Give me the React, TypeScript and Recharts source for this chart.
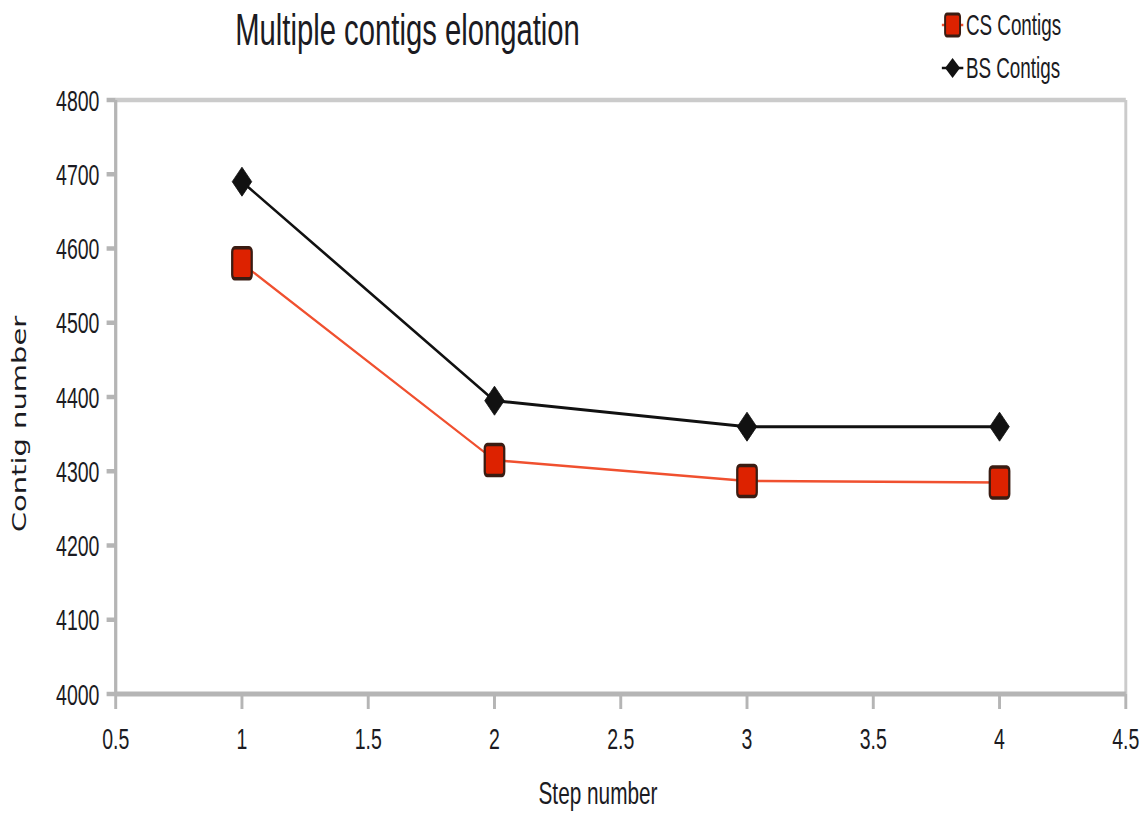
import React from 'react';
import { LineChart, Line, XAxis, YAxis, ReferenceLine, Customized } from 'recharts';

// step numbers on the x axis and contig counts per series
const steps = [1, 2, 3, 4];
const csContigs = [4580, 4315, 4287, 4285];
const bsContigs = [4690, 4395, 4360, 4360];

const xTicks = [0.5, 1, 1.5, 2, 2.5, 3, 3.5, 4, 4.5];
const yTicks = [4000, 4100, 4200, 4300, 4400, 4500, 4600, 4700, 4800];

// the chart is laid out wide and then squeezed horizontally
const SQUEEZE = 0.65;
const OUT_W = 1146;
const OUT_H = 816;
const CHART_W = Math.round(OUT_W / SQUEEZE);

const RED = '#dd2200';
const RED_LINE = '#f0502f';
const DARK = '#111111';
const AXIS = '#b5b5b5';
const FRAME = '#cbcbcb';
const FONT = '"Liberation Sans", Arial, sans-serif';

const chartData = steps.map((s, i) => ({ step: s, cs: csContigs[i], bs: bsContigs[i] }));

const SquareDot = (props: any) => {
  const { cx, cy } = props;
  if (cx == null || cy == null) return null;
  return (
    <rect x={cx - 15} y={cy - 15.5} width={30} height={31} rx={4} ry={4}
      fill={RED} stroke="#3a1c12" strokeWidth={3.5} />
  );
};

const DiamondDot = (props: any) => {
  const { cx, cy } = props;
  if (cx == null || cy == null) return null;
  return (
    <polygon points={`${cx},${cy - 14.5} ${cx + 15},${cy} ${cx},${cy + 14.5} ${cx - 15},${cy}`}
      fill={DARK} stroke={DARK} strokeWidth={1} strokeLinejoin="round" />
  );
};

const Labels = () => (
  <g fontFamily={FONT} fill="#1b1b22">
    <text x={627} y={45} fontSize={45} textAnchor="middle">Multiple contigs elongation</text>
    <text x={920} y={804} fontSize={32} textAnchor="middle">Step number</text>
    <text x={40} y={424} fontSize={29} textAnchor="middle" fontFamily='"DejaVu Sans", sans-serif'
      transform="rotate(-90, 40, 424)">Contig number</text>

    {/* legend */}
    <line x1={1449} y1={25} x2={1482} y2={25} stroke={RED_LINE} strokeWidth={2.5} />
    <rect x={1454} y={14} width={23} height={22} rx={3} fill={RED} stroke="#3a1c12" strokeWidth={3} />
    <text x={1486} y={35} fontSize={29}>CS Contigs</text>
    <line x1={1449} y1={68} x2={1482} y2={68} stroke={DARK} strokeWidth={2.5} />
    <polygon points="1465.5,58 1477,68 1465.5,78 1454,68" fill={DARK} />
    <text x={1486} y={78} fontSize={29}>BS Contigs</text>
  </g>
);

const tickStyle = { fontSize: 30, fill: '#1b1b22', fontFamily: FONT };

const App: React.FC = () => {
  return (
    <div style={{ position: 'absolute', left: 0, top: 0, width: OUT_W, height: OUT_H, overflow: 'hidden', background: '#fff' }}>
      <div style={{ width: CHART_W, height: OUT_H, transform: `scaleX(${SQUEEZE})`, transformOrigin: '0 0' }}>
        <LineChart width={CHART_W} height={OUT_H} data={chartData}
          margin={{ top: 100, right: 31, left: 58, bottom: 62 }}>
          <XAxis dataKey="step" type="number" domain={[0.5, 4.5]} ticks={xTicks} height={60}
            axisLine={{ stroke: AXIS, strokeWidth: 5 }}
            tickLine={{ stroke: AXIS, strokeWidth: 4.5 }}
            tickSize={15} tickMargin={19} tick={tickStyle} />
          <YAxis type="number" domain={[4000, 4800]} ticks={yTicks} width={120}
            axisLine={{ stroke: AXIS, strokeWidth: 5 }}
            tickLine={{ stroke: AXIS, strokeWidth: 4.5 }}
            tickSize={14} tickMargin={11} tick={tickStyle} />
          <ReferenceLine y={4800} stroke={FRAME} strokeWidth={4.5} />
          <ReferenceLine x={4.5} stroke={FRAME} strokeWidth={4.5} />
          <Line type="linear" dataKey="bs" name="BS Contigs" stroke={DARK} strokeWidth={3}
            dot={<DiamondDot />} activeDot={false} isAnimationActive={false} />
          <Line type="linear" dataKey="cs" name="CS Contigs" stroke={RED_LINE} strokeWidth={2.5}
            dot={<SquareDot />} activeDot={false} isAnimationActive={false} />
          <Customized component={Labels} />
        </LineChart>
      </div>
    </div>
  );
};

export default App;
